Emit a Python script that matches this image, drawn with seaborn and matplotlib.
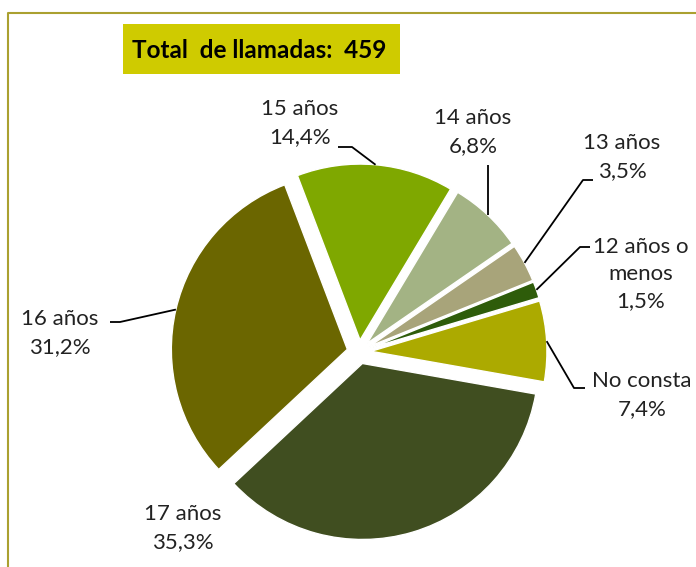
import numpy as np
import seaborn as sns
import matplotlib.pyplot as plt
from matplotlib.patches import Rectangle
from matplotlib.lines import Line2D

# Data
categories = ['No consta', '12 años o\nmenos', '13 años', '14 años', '15 años', '16 años', '17 años']
shares = [7.4, 1.5, 3.5, 6.8, 14.4, 31.2, 35.3]
share_labels = ['7,4%', '1,5%', '3,5%', '6,8%', '14,4%', '31,2%', '35,3%']
total_calls = 459

colors = ['#acaa00', '#2e5c0a', '#a8a47a', '#a3b384', '#7fa800', '#6b6600', '#404e20']

sns.set_style("white")
plt.rcParams['font.family'] = ['Lato', 'DejaVu Sans']

W, H = 696, 567
fig = plt.figure(figsize=(W / 100, H / 100), dpi=100)
ax = fig.add_axes([0, 0, 1, 1])

# pie centre and radius in pixels (from top-left)
cx, cy, R = 359, 352, 176


def px(x, y):
    return (x - cx) / R, (cy - y) / R


wedges, _ = ax.pie(shares, colors=colors, startangle=-10, counterclock=True,
                   explode=[0.068] * len(shares),
                   wedgeprops=dict(edgecolor='white', linewidth=1))
ax.set_xlim((0 - cx) / R, (W - cx) / R)
ax.set_ylim((cy - H) / R, cy / R)
ax.set_aspect('auto')
ax.axis('off')

# label block centres and leader elbows (pixels)
label_pos = [(642, 395), (641, 274), (622, 157), (473, 132), (300, 123), (60, 333), (183, 528)]
elbows = [
    [(585, 388), (574, 388)],
    [(590, 247), (580, 247)],
    [(593, 180), (583, 180)],
    [(486, 165)],
    [(338, 147), (352, 147)],
    [(110, 322), (120, 322)],
    [],
]

for w, cat, lab, pos, elb in zip(wedges, categories, share_labels, label_pos, elbows):
    ax.text(*px(*pos), f'{cat}\n{lab}', ha='center', va='center', fontsize=16,
            color='#222222', multialignment='center', linespacing=1.45)
    if elb:
        ang = np.deg2rad((w.theta1 + w.theta2) / 2)
        ax_, ay_ = w.center[0] + w.r * np.cos(ang), w.center[1] + w.r * np.sin(ang)
        pts = [px(*p) for p in elb] + [(ax_, ay_)]
        if len(elb) == 1:
            pts = [(ax_, pts[0][1]), (ax_, ay_)]
        xs, ys = zip(*pts)
        ax.plot(xs, ys, color='black', lw=1.3, solid_capstyle='butt')

# title box
fig.patches.append(Rectangle((123 / W, 1 - 74 / H), 277 / W, 50 / H,
                             transform=fig.transFigure, facecolor='#cfcb00', edgecolor='none'))
fig.text(259 / W, 1 - 50 / H, f'Total  de llamadas:  {total_calls}', ha='center', va='center',
         fontsize=17.5, fontweight='bold', color='black')

# chart border (left and top edges visible)
fig.add_artist(Line2D([8 / W, 8 / W, 1], [0, 1 - 13 / H, 1 - 13 / H],
                      transform=fig.transFigure, color='#aaa030', lw=1.5))

fig.savefig('out.png', dpi=100)
